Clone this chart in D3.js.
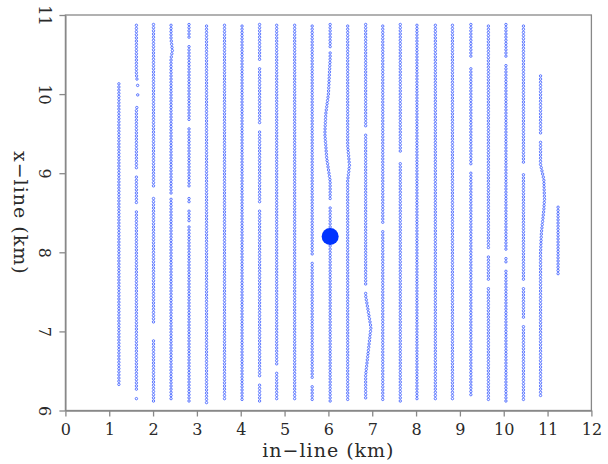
<!DOCTYPE html>
<html>
<head>
<meta charset="utf-8">
<script src="https://cdn.jsdelivr.net/npm/d3@7"></script>
<style>
  body { margin: 0; background: #fff; }
  svg { display: block; }
  .axis text { font-family: "DejaVu Serif", serif; font-size: 16px; fill: #2a2a2a; }
  .axis path, .axis line { stroke: #888; stroke-width: 1.3; }
  .title { font-family: "DejaVu Serif", serif; font-size: 19px; letter-spacing: 1px; fill: #2a2a2a; }
</style>
</head>
<body>
<div id="chart"></div>
<script>
// receiver lines: in-line position (km), first and last station (km)
var lineX = [1.22, 1.62, 2.01, 2.41, 2.82, 3.22, 3.63, 4.03, 4.43, 4.82, 5.23, 5.63, 6.04,
             6.44, 6.85, 7.24, 7.64, 8.02, 8.44, 8.83, 9.25, 9.65, 10.05, 10.45, 10.84, 11.24];
var lineTop = [10.13, 10.87, 10.88, 10.87, 10.88, 10.86, 10.87, 10.86, 10.88, 10.87, 10.87, 10.86, 10.88,
               10.86, 10.88, 10.86, 10.88, 10.87, 10.87, 10.87, 10.88, 10.86, 10.88, 10.86, 10.23, 8.57];
var lineBottom = [6.31, 6.12, 6.12, 6.12, 6.12, 6.10, 6.12, 6.11, 6.12, 6.12, 6.12, 6.12, 6.12,
                  6.11, 6.14, 6.12, 6.12, 6.12, 6.13, 6.12, 6.18, 6.12, 6.12, 6.12, 6.18, 7.71];
// missing stations [from, to] (km)
var lineGaps = [
  [],
  [[10.19, 10.13], [10.08, 10.02], [9.96, 9.87], [9.06, 8.98], [8.60, 8.53], [6.26, 6.18]],
  [[8.81, 8.71], [7.10, 6.99], [6.97, 6.89]],
  [[8.75, 8.68]],
  [[10.71, 10.63], [9.65, 9.59], [8.81, 8.69], [8.61, 8.53], [8.40, 8.33]],
  [],
  [],
  [],
  [[10.41, 10.33], [9.61, 9.53], [8.63, 8.53], [6.42, 6.35]],
  [[6.57, 6.48]],
  [],
  [[7.95, 7.87], [6.41, 6.33]],
  [[10.60, 10.54], [8.65, 8.58]],
  [],
  [[9.57, 9.49], [7.57, 7.49]],
  [[8.36, 8.29]],
  [[9.26, 9.16]],
  [],
  [],
  [],
  [[10.47, 10.34], [9.12, 9.04]],
  [[8.06, 7.98], [7.66, 7.58]],
  [[10.47, 10.39], [8.02, 7.94], [7.87, 7.79]],
  [[9.11, 9.02], [7.66, 7.58], [7.15, 7.08]],
  [[9.51, 9.43]],
  []
];
// lateral offsets where a line bends [x-line km, offset km]
var lineBends = [
  [], [[10.25, 0], [10.1, 0.03], [9.9, 0.03], [9.8, 0]], [], [[10.7, 0], [10.55, 0.03], [10.45, 0]], [], [], [], [], [], [], [], [],
  [[10.45, 0], [10.0, -0.04], [9.75, -0.1], [9.5, -0.12], [9.2, -0.08], [8.9, 0]],
  [[9.35, 0], [9.1, 0.04], [8.9, 0]],
  [[7.45, 0], [7.05, 0.12], [6.45, 0]],
  [], [], [], [], [], [], [], [], [],
  [[9.11, 0], [8.92, 0.075], [8.67, 0.09], [8.54, 0.075], [8.25, 0.02], [8.0, 0]],
  []
];
var stationSpacing = 0.04;
var shotX = [6.04], shotY = [8.20];
var xTicks = [0, 1, 2, 3, 4, 5, 6, 7, 8, 9, 10, 11, 12];
var yTicks = [6, 7, 8, 9, 10, 11];

var width = 608, height = 464;
var margin = { left: 65.4, top: 15, right: 16.6, bottom: 53.5 };
var w = width - margin.left - margin.right;
var h = height - margin.top - margin.bottom;

var x = d3.scaleLinear().domain([0, 12]).range([0, w]);
var y = d3.scaleLinear().domain([6, 11]).range([h, 0]);

function offsetAt(bends, yy) {
  if (!bends.length) return 0;
  for (var k = 0; k < bends.length - 1; k++) {
    var a = bends[k], b = bends[k + 1];
    if (yy <= a[0] && yy >= b[0]) return a[1] + (b[1] - a[1]) * (a[0] - yy) / (a[0] - b[0]);
  }
  return 0;
}

// build station list
var stations = [];
lineX.forEach(function(lx, i) {
  for (var yy = lineTop[i]; yy >= lineBottom[i] - 1e-6; yy -= stationSpacing) {
    var skip = lineGaps[i].some(function(g) { return yy < g[0] && yy > g[1]; });
    if (skip) continue;
    stations.push({ x: lx + offsetAt(lineBends[i], yy), y: yy });
  }
});

var svg = d3.select('#chart').append('svg')
  .attr('width', width).attr('height', height);
var g = svg.append('g')
  .attr('transform', 'translate(' + margin.left + ',' + margin.top + ')');

g.append('rect')
  .attr('width', w).attr('height', h)
  .attr('fill', 'none').attr('stroke', '#888').attr('stroke-width', 1.3);

g.selectAll('.station')
  .data(stations)
  .enter()
  .append('circle')
  .attr('class', 'station')
  .attr('cx', function(d) { return x(d.x); })
  .attr('cy', function(d) { return y(d.y); })
  .attr('r', 1.2)
  .attr('fill', '#ffffff')
  .attr('stroke', '#3557ff')
  .attr('stroke-width', 0.8);

g.selectAll('.shot')
  .data(shotX)
  .enter()
  .append('circle')
  .attr('class', 'shot')
  .attr('cx', function(d) { return x(d); })
  .attr('cy', function(d, i) { return y(shotY[i]); })
  .attr('r', 8.5)
  .attr('fill', '#0033ff');

var xAxis = g.append('g')
  .attr('class', 'axis')
  .attr('transform', 'translate(0,' + h + ')')
  .call(d3.axisBottom(x).tickValues(xTicks).tickFormat(d3.format('d')).tickSize(6).tickSizeOuter(0));
xAxis.selectAll('text').attr('y', 24.5).attr('dy', null);

var yAxis = g.append('g')
  .attr('class', 'axis')
  .call(d3.axisLeft(y).tickValues(yTicks).tickFormat(d3.format('d')).tickSize(6).tickSizeOuter(0));
yAxis.selectAll('text')
  .attr('x', 0).attr('dy', null)
  .attr('text-anchor', 'middle')
  .attr('dominant-baseline', 'central')
  .attr('transform', 'translate(-21,0) rotate(90)');

svg.append('text')
  .attr('class', 'title')
  .attr('x', margin.left + w / 2)
  .attr('y', 457)
  .attr('text-anchor', 'middle')
  .text('in\u2212line (km)');

svg.append('text')
  .attr('class', 'title')
  .attr('text-anchor', 'middle')
  .attr('transform', 'translate(14,' + (margin.top + h / 2) + ') rotate(90)')
  .text('x\u2212line (km)');
</script>
</body>
</html>
